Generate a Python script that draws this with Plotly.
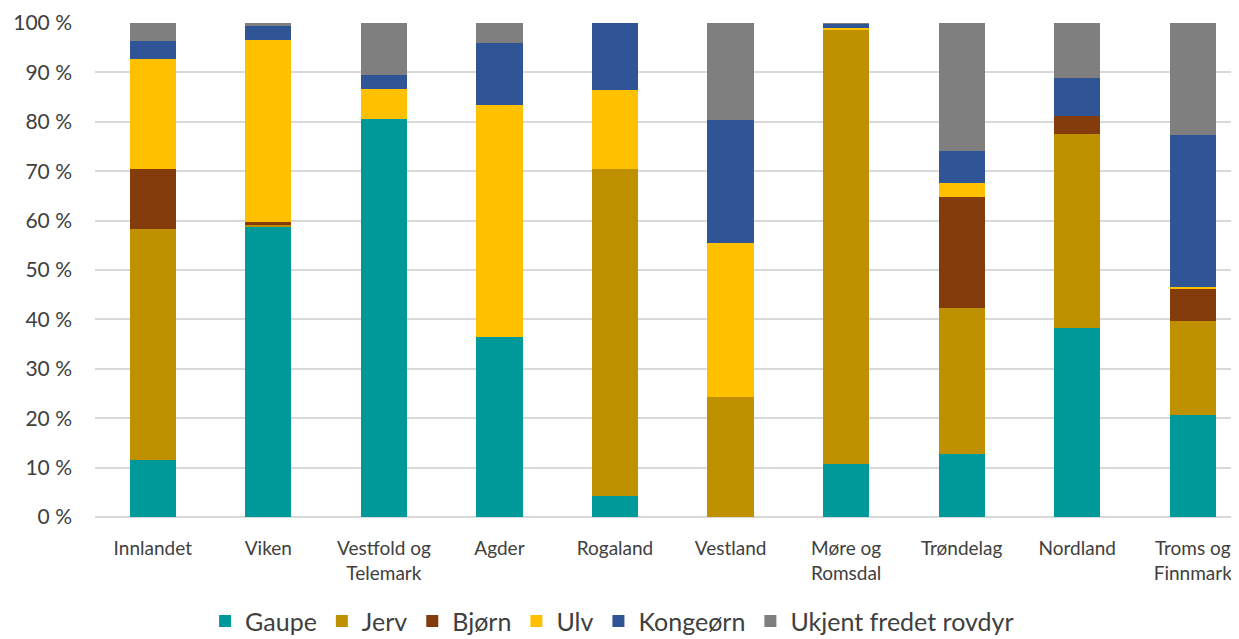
import plotly.graph_objects as go

# Regions (x-axis categories)
regions = ['Innlandet', 'Viken', 'Vestfold og<br>Telemark', 'Agder', 'Rogaland',
           'Vestland', 'Møre og<br>Romsdal', 'Trøndelag', 'Nordland', 'Troms og<br>Finnmark']

# Share of losses (%) per predator
gaupe = [11.5, 58.9, 80.6, 36.4, 4.3, 0.0, 10.7, 12.8, 38.3, 20.6]
jerv = [46.8, 0.3, 0.0, 0.0, 66.1, 24.3, 87.9, 29.5, 39.2, 19.1]
bjorn = [12.1, 0.6, 0.0, 0.0, 0.0, 0.0, 0.0, 22.5, 3.7, 6.5]
ulv = [22.3, 36.8, 6.0, 47.0, 16.0, 31.2, 0.4, 2.8, 0.0, 0.4]
kongeorn = [3.7, 2.8, 2.9, 12.6, 13.6, 24.9, 0.8, 6.4, 7.7, 30.7]
ukjent = [3.6, 0.6, 10.5, 4.0, 0.0, 19.6, 0.2, 26.0, 11.1, 22.7]

series = [
    ('Gaupe', gaupe, '#009999'),
    ('Jerv', jerv, '#BF9000'),
    ('Bjørn', bjorn, '#843C0C'),
    ('Ulv', ulv, '#FFC000'),
    ('Kongeørn', kongeorn, '#2F5597'),
    ('Ukjent fredet rovdyr', ukjent, '#7F7F7F'),
]

fig = go.Figure()

for name, values, color in series:
    fig.add_trace(go.Bar(x=regions,
                         y=values,
                         name=name,
                         marker=dict(color=color, line=dict(width=0)),
                         width=0.4))

# page body adds ~8px offset, so the figure is shifted a bit in the window
fig.update_layout(
    barmode='stack',
    width=1239,
    height=631,
    margin=dict(l=87, r=8, t=15, b=122),
    plot_bgcolor='white',
    paper_bgcolor='white',
    font=dict(family='Lato, Open Sans, sans-serif', color='#404040', size=17),
    legend=dict(orientation='h', x=0.452, xanchor='center', y=0.028, yanchor='middle',
                yref='container', font=dict(size=25, color='#404040'),
                traceorder='normal', itemwidth=30),
    bargap=0.6,
)

fig.update_xaxes(range=[-0.5, 9.4], showline=False, ticks='', tickfont=dict(size=19),
                 ticklabelstandoff=18, automargin=False)
fig.update_yaxes(range=[0, 100], dtick=10, ticksuffix=' %', showgrid=True,
                 gridcolor='#D9D9D9', gridwidth=1.5, zeroline=True, zerolinecolor='#D9D9D9',
                 zerolinewidth=1.5, tickfont=dict(size=21), ticklabelstandoff=22,
                 automargin=False)

fig.write_html("out.html")
